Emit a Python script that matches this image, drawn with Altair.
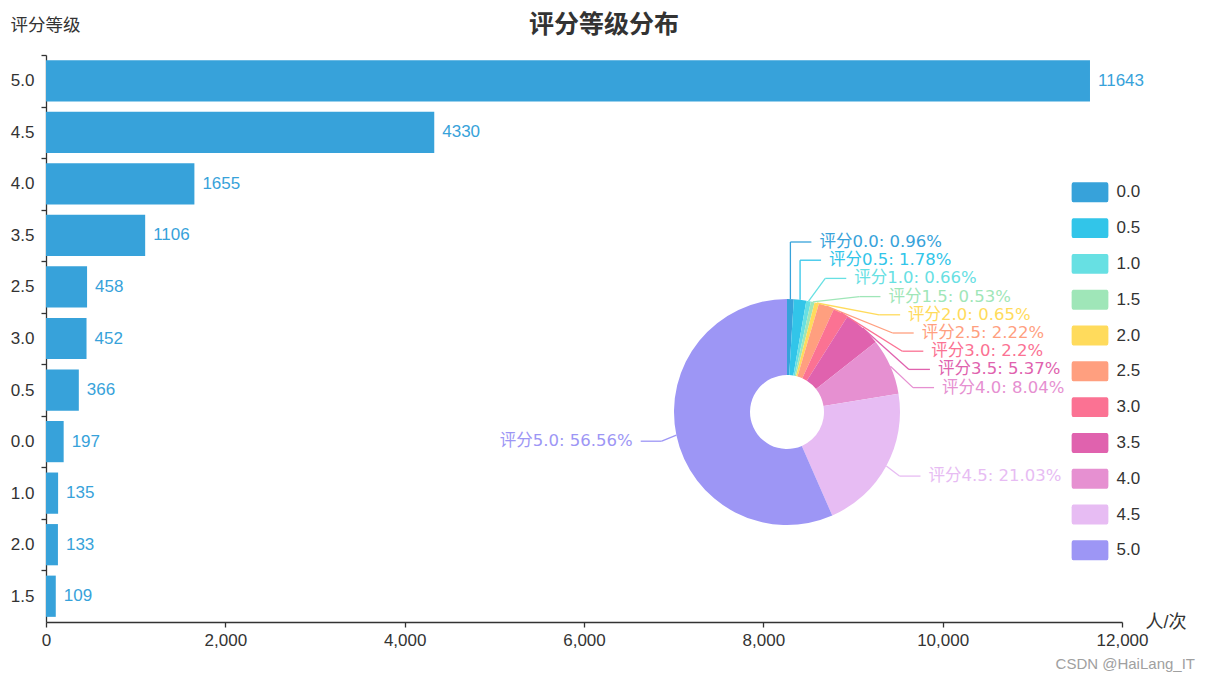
import altair as alt
import pandas as pd

# ---- data ----
grades = ["0.0", "0.5", "1.0", "1.5", "2.0", "2.5", "3.0", "3.5", "4.0", "4.5", "5.0"]
counts = [197, 366, 135, 109, 133, 458, 452, 1106, 1655, 4330, 11643]
colors = ["#37a2da", "#32c5e9", "#67e0e3", "#9fe6b8", "#ffdb5c", "#ff9f7f",
          "#fb7293", "#e062ae", "#e690d1", "#e7bcf3", "#9d96f5"]
x_ticks = [0, 2000, 4000, 6000, 8000, 10000, 12000]
title_text = "评分等级分布"
y_title = "评分等级"
x_title = "人/次"
watermark = ["CSDN @HaiLang_IT"]

df = pd.DataFrame({"grade": grades, "count": counts})

# ---- layout constants ----
W, H = 1076, 567
PL, PT = 46, 55
FONT = "'Liberation Sans', 'Noto Sans CJK SC', sans-serif"
PIE_FONT = "'DejaVu Sans', 'Noto Sans CJK SC', sans-serif"
BAR = "#37a2da"
TXT = "#333333"

# pie geometry (plot coordinates)
CX, CY = 741, 357
R_OUT, R_IN = 113, 37
RA = 128          # radius of first label-line segment end
RB = 140          # vertical semi-axis for shifted labels
TOPY = 187        # first shifted label y
STEP = 18.2       # spacing of shifted labels

# ---- bar chart ----
base = alt.Chart(df).encode(
    x=alt.X("count:Q",
            scale=alt.Scale(domain=[0, 12000], nice=False),
            axis=alt.Axis(values=x_ticks, format=",d", grid=False, labelFlush=False,
                          title=x_title, titleX=W + 23, titleY=0,
                          titleAlign="left", titleBaseline="middle",
                          titleFontSize=18, titleFontWeight="normal",
                          titleColor=TXT, labelPadding=5)),
    y=alt.Y("grade:N", sort="-x",
            scale=alt.Scale(paddingInner=0.2, paddingOuter=0.1),
            axis=alt.Axis(bandPosition=0, tickOffset=-5.15, labelOffset=5.15,
                          title=y_title, titleAngle=0, titleX=-36, titleY=-30,
                          titleAlign="left", titleBaseline="middle",
                          titleFontSize=17.5, titleFontWeight="normal",
                          titleColor=TXT, labelPadding=7)),
)
bars = base.mark_bar(color=BAR)
bar_text = base.mark_text(align="left", baseline="middle", dx=8, fontSize=17,
                          color=BAR, font=FONT).encode(text="count:Q")
bar_layer = alt.layer(bars, bar_text)

# ---- pie ----
sym_path = ("M-0.96,-0.57 L0.96,-0.57 Q1.05,-0.57 1.05,-0.42 L1.05,0.42 "
            "Q1.05,0.57 0.96,0.57 L-0.96,0.57 Q-1.05,0.57 -1.05,0.42 "
            "L-1.05,-0.42 Q-1.05,-0.57 -0.96,-0.57 Z")

arc = alt.Chart(df).mark_arc(outerRadius=R_OUT, innerRadius=R_IN).encode(
    theta=alt.Theta("count:Q", stack=True),
    order=alt.Order("grade:O", sort="ascending"),
    color=alt.Color("grade:N", scale=alt.Scale(domain=grades, range=colors),
                    legend=alt.Legend(title=None, orient="none",
                                      legendX=1026.5, legendY=119.8,
                                      symbolType=sym_path, symbolSize=1225,
                                      symbolStrokeWidth=0, labelFontSize=17,
                                      labelColor=TXT, labelFont=FONT,
                                      labelOffset=9, rowPadding=7.8,
                                      padding=0)),
    x=alt.value(CX), y=alt.value(CY),
)

lab = (
    alt.Chart(df)
    .transform_joinaggregate(total="sum(count)")
    .transform_calculate(raw="datum.count * 10000 / datum.total")
    .transform_calculate(fl="floor(datum.raw)")
    .transform_calculate(rem="datum.raw - datum.fl")
    .transform_joinaggregate(sumfl="sum(fl)")
    .transform_window(rr="row_number()", sort=[alt.SortField("rem", order="descending")])
    .transform_calculate(pct="(datum.fl + (datum.rr <= 10000 - datum.sumfl ? 1 : 0)) / 100")
    .transform_window(cum="sum(count)", sort=[alt.SortField("grade")], frame=[None, 0])
    .transform_calculate(mid="(datum.cum - datum.count / 2) / datum.total * 2 * PI")
    .transform_calculate(label="'评分' + datum.grade + ': ' + datum.pct + '%'")
    .transform_calculate(side="sin(datum.mid) >= 0 ? 1 : -1")
    .transform_calculate(sx=f"{CX} + {R_OUT} * sin(datum.mid)")
    .transform_calculate(sy=f"{CY} - {R_OUT} * cos(datum.mid)")
    .transform_calculate(nx=f"{CX} + {RA} * sin(datum.mid)")
    .transform_calculate(ny=f"{CY} - {RA} * cos(datum.mid)")
    .transform_calculate(top="datum.mid < PI / 2 ? 1 : 0")
    .transform_window(k="row_number()", groupby=["top"], sort=[alt.SortField("grade")])
    .transform_calculate(ly=f"datum.top == 1 ? {TOPY} + (datum.k - 1) * {STEP} : datum.ny + 3")
    .transform_calculate(
        ex=f"datum.top == 1 ? max(datum.sx, {CX} + {RA} * sqrt(max(0, 1 - pow(datum.ly - {CY}, 2) / {RB * RB}))) : datum.nx")
    .transform_calculate(lx2="datum.ex + datum.side * 21")
    .transform_calculate(tx="datum.ex + datum.side * 29")
)

stroke_enc = alt.Stroke("grade:N", scale=alt.Scale(domain=grades, range=colors), legend=None)
fill_enc = alt.Fill("grade:N", scale=alt.Scale(domain=grades, range=colors), legend=None)

rule1 = lab.mark_rule(strokeWidth=1.3).encode(
    x=alt.X("sx:Q", scale=None, axis=None),
    y=alt.Y("sy:Q", scale=None, axis=None),
    x2="ex:Q", y2="ly:Q", stroke=stroke_enc)
rule2 = lab.mark_rule(strokeWidth=1.3).encode(
    x=alt.X("ex:Q", scale=None, axis=None),
    y=alt.Y("ly:Q", scale=None, axis=None),
    x2="lx2:Q", y2="ly:Q", stroke=stroke_enc)
text_r = lab.transform_filter("datum.side > 0").mark_text(
    align="left", baseline="middle", fontSize=16.5, font=PIE_FONT).encode(
    x=alt.X("tx:Q", scale=None, axis=None),
    y=alt.Y("ly:Q", scale=None, axis=None),
    text="label:N", fill=fill_enc)
text_l = lab.transform_filter("datum.side < 0").mark_text(
    align="right", baseline="middle", fontSize=16.5, font=PIE_FONT).encode(
    x=alt.X("tx:Q", scale=None, axis=None),
    y=alt.Y("ly:Q", scale=None, axis=None),
    text="label:N", fill=fill_enc)

wm = alt.Chart(pd.DataFrame({"t": watermark})).mark_text(
    align="right", baseline="middle", fontSize=15, color="#a0a0a0", font=FONT
).encode(text="t:N", x=alt.value(W + 73), y=alt.value(H + 42))

chart = (
    alt.layer(bar_layer, arc, rule1, rule2, text_r, text_l, wm)
    .resolve_scale(x="independent", y="independent")
    .properties(
        width=W, height=H,
        title=alt.TitleParams(title_text, fontSize=25, fontWeight="bold",
                              color=TXT, anchor="middle", dx=20, dy=26, font=FONT),
        padding={"left": PL, "top": PT, "right": 1210 - PL - W, "bottom": 683 - PT - H},
        autosize=alt.AutoSizeParams(type="none"),
    )
    .configure(font=FONT)
    .configure_view(stroke=None)
    .configure_axis(labelFontSize=17, labelColor=TXT, labelFont=FONT,
                    titleFont=FONT, domainColor=TXT, tickColor=TXT,
                    domainWidth=1.3, tickWidth=1.3, tickSize=5)
)

chart.save("out.html", embed_options={"renderer": "svg", "actions": False})
